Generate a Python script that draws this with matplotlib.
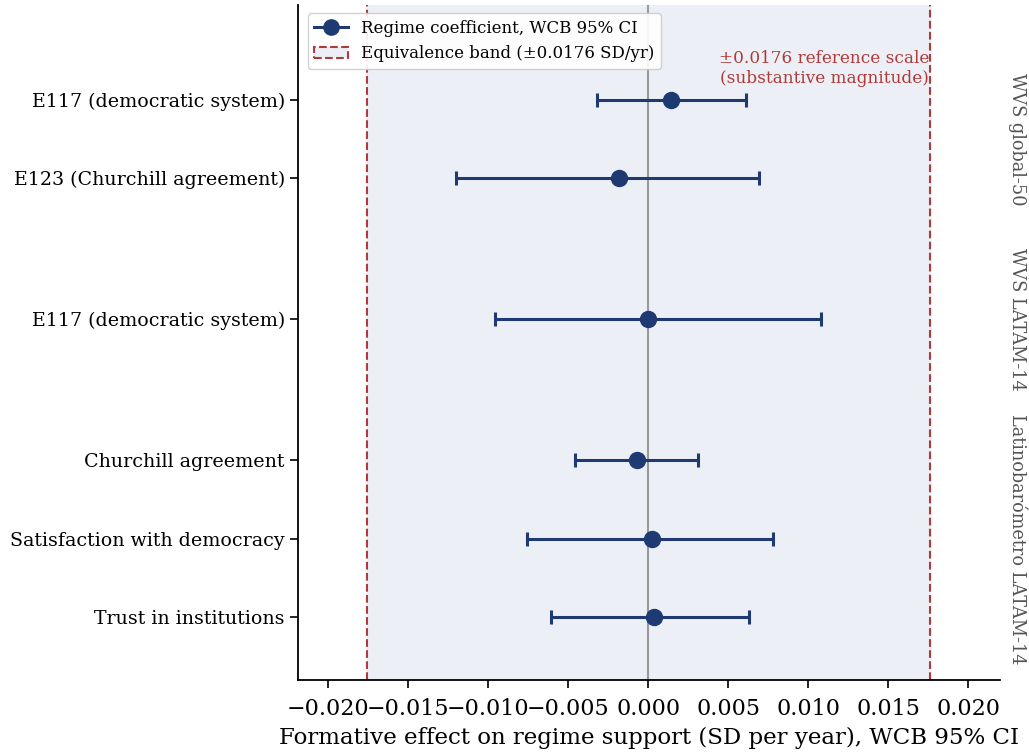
import matplotlib
matplotlib.use("Agg")
import matplotlib.pyplot as plt
from matplotlib.lines import Line2D
from matplotlib.patches import Patch

labels = ["E117 (democratic system)", "E123 (Churchill agreement)",
          "E117 (democratic system)", "Churchill agreement",
          "Satisfaction with democracy", "Trust in institutions"]
positions = [0.0, 1.0, 2.8, 4.6, 5.6, 6.6]
coef = [0.00144, -0.00180, -0.00002, -0.00069, 0.00025, 0.00036]
ci_lo = [-0.0032, -0.0120, -0.0096, -0.0046, -0.0076, -0.0061]
ci_hi = [0.0061, 0.0069, 0.0108, 0.0031, 0.0078, 0.0063]
groups = ["WVS global-50", "WVS LATAM-14", "Latinobarómetro LATAM-14"]
group_centers = [0.5, 2.8, 5.6]
band = 0.0176
xticks = [-0.020, -0.015, -0.010, -0.005, 0.000, 0.005, 0.010, 0.015, 0.020]

plt.rcParams['font.family'] = ['DejaVu Serif']
navy = "#1f3a73"
red = "#b03a3a"

fig = plt.figure(figsize=(10.29, 7.53), dpi=100)
ax = fig.add_axes([298/1029, 1 - 680/753, (1000-298)/1029, (680-5)/753])

ax.axvspan(-band, band, color="#eceff5", zorder=0)
ax.axvline(-band, color=red, ls="--", lw=1.5, zorder=1)
ax.axvline(band, color=red, ls="--", lw=1.5, zorder=1)
ax.axvline(0, color="#999999", lw=1.5, zorder=1)

xerr = [[c - l for c, l in zip(coef, ci_lo)], [h - c for c, h in zip(coef, ci_hi)]]
ax.errorbar(coef, positions, xerr=xerr, fmt="o", color=navy, ms=11.5,
            elinewidth=2.2, capsize=5, capthick=2.2, zorder=3)

ax.set_yticks(positions)
ax.set_yticklabels(labels, fontsize=13.7)
ax.set_ylim(7.4, -1.21)
ax.set_xlim(-0.0219, 0.0220)
ax.set_xticks(xticks)
ax.set_xticklabels([f"{t:.3f}".replace("-", "\u2212") for t in xticks], fontsize=16)
ax.set_xlabel("Formative effect on regime support (SD per year), WCB 95% CI", fontsize=16.5,
              labelpad=5)
ax.tick_params(axis="both", length=6, width=1.2)
ax.tick_params(axis="x", pad=7)
for s in ["top", "right"]:
    ax.spines[s].set_visible(False)
for s in ["left", "bottom"]:
    ax.spines[s].set_linewidth(1.3)

ax.text(band, -0.40, "\u00b10.0176 reference scale\n(substantive magnitude)",
        ha="right", va="center", multialignment="center", color=red, fontsize=12.2)

for g, yc in zip(groups, group_centers):
    ax.text(1.024, yc, g, transform=ax.get_yaxis_transform(), rotation=-90,
            ha="center", va="center", color="#555555", fontsize=12.8)

handles = [Line2D([0], [0], color=navy, marker="o", ms=11, lw=2.2),
           Patch(facecolor="#eceff5", edgecolor=red, ls="--", lw=1.5)]
ax.legend(handles, ["Regime coefficient, WCB 95% CI", "Equivalence band (\u00b10.0176 SD/yr)"],
          loc="upper left", bbox_to_anchor=(0.002, 1.0), fontsize=12, framealpha=0.9)

fig.savefig("out.png", dpi=100)
